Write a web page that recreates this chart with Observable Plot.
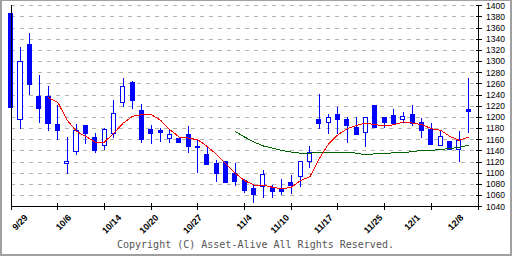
<!DOCTYPE html>
<html>
<head>
<meta charset="utf-8">
<script src="https://cdn.jsdelivr.net/npm/d3@7"></script>
<script src="https://cdn.jsdelivr.net/npm/@observablehq/plot@0.6"></script>
<style>
  html, body { margin: 0; padding: 0; background: #fff; }
  #wrap { position: relative; width: 512px; height: 256px; overflow: hidden; background: #fff; }
  #chart { position: absolute; left: 0; top: 0; }
  #chart svg { shape-rendering: crispEdges; }
  #chart svg text { shape-rendering: auto; }
  #frame { position: absolute; left: 0; top: 0; width: 512px; height: 256px; box-sizing: border-box;
           border: 2px solid #a0a0a0; border-top-width: 1px; pointer-events: none; }
  #copy { position: absolute; left: 117px; top: 239px; font: 10px/12px "DejaVu Sans Mono", monospace;
          color: #555; white-space: nowrap; }
</style>
</head>
<body>
<div id="wrap">
  <div id="chart"></div>
  <div id="copy">Copyright (C) Asset-Alive All Rights Reserved.</div>
  <div id="frame"></div>
</div>
<script>
// x tick labels (every 5 trading days) and their calendar dates
const xLabels = ["9/29","10/6","10/14","10/20","10/27","11/4","11/10","11/17","11/25","12/1","12/8"];
const xLabelDates = ["2025-09-29","2025-10-06","2025-10-14","2025-10-20","2025-10-27","2025-11-04",
                     "2025-11-10","2025-11-17","2025-11-25","2025-12-01","2025-12-08"];
const xTickIndex = [0,5,10,15,20,25,30,35,40,45,50];

// daily OHLC (index 0 = 9/29)
const openP  = [1386,1196,1329,1236,1236,1187,1116,1138,1184,1164,
                1149,1171,1226,1261,1211,1177,1175,1162,1162,1168,
                1148,1132,1116,1121,1099,1087,1071,1075,1073,1071,
                1083,1093,1121,1196,1190,1205,1195,1181,1172,1221,
                1199,1202,1195,1205,1190,1177,1149,1156,1141,1213];
const highP  = [1395,1325,1350,1275,1255,1222,1164,1187,1185,1171,
                1180,1230,1270,1264,1223,1186,1180,1178,1163,1184,
                1160,1147,1123,1121,1117,1089,1079,1105,1078,1089,
                1096,1121,1148,1241,1205,1218,1200,1200,1199,1221,
                1199,1214,1209,1221,1199,1189,1175,1156,1175,1270];
const lowP   = [1212,1179,1239,1190,1174,1159,1098,1132,1152,1136,
                1140,1163,1217,1214,1154,1152,1156,1154,1154,1136,
                1099,1114,1083,1082,1076,1064,1046,1054,1054,1060,
                1062,1075,1109,1178,1170,1170,1154,1169,1147,1181,
                1180,1186,1190,1184,1163,1150,1149,1140,1120,1172];
const closeP = [1217,1300,1258,1215,1188,1175,1121,1175,1170,1140,
                1178,1207,1255,1229,1159,1170,1172,1169,1155,1147,
                1146,1114,1098,1083,1084,1068,1061,1097,1066,1067,
                1078,1121,1137,1188,1199,1195,1184,1169,1199,1181,
                1190,1189,1201,1189,1175,1150,1165,1141,1157,1210];

// short moving average (red), starts at index 4
const maShortStart = 4;
const maShort = [1235,1227,1195,1175,1166,1156,1156,1172,1190,1202,
                 1205,1205,1195,1178,1165,1163,1160,1148,1134,1117,
                 1100,1087,1079,1079,1075,1072,1075,1087,1094,1126,
                 1153,1169,1180,1186,1190,1187,1185,1187,1192,1190,
                 1187,1180,1177,1166,1159,1165];
// long moving average (green), starts at index 24
const maLongStart = 24;
const maLong = [1175,1165,1156,1149,1145,1141,1138,1136,1136,1138,
                1138,1138,1138,1136,1133,1135,1135,1137,1137,1139,
                1141,1141,1143,1144,1147,1150];

const yTicks = [1040,1060,1080,1100,1120,1140,1160,1180,1200,1220,1240,1260,1280,1300,1320,1340,1360,1380,1400];

const candles = openP.map((o, i) => ({i, open: o, high: highP[i], low: lowP[i], close: closeP[i]}));
const shortData = maShort.map((v, k) => ({i: maShortStart + k, v}));
const longData = maLong.map((v, k) => ({i: maLongStart + k, v}));

// date labels are laid out on a calendar-day basis across the trading-day axis
const calendar = d3.scaleUtc()
  .domain([new Date("2025-09-26T06:00Z"), new Date("2025-12-10T06:00Z")])
  .range([0, 50]);
const labelRows = xLabels.map((t, k) => ({t, pos: calendar(new Date(xLabelDates[k] + "T00:00Z"))}));

const blue = "#0000ff";
const chart = Plot.plot({
  width: 512, height: 256,
  marginLeft: 10.7, marginRight: 34.5, marginTop: 5.3, marginBottom: 49.7,
  x: {type: "linear", domain: [0, 50], axis: null},
  y: {domain: [1040, 1400], axis: null},
  style: {background: "transparent", overflow: "visible", fontFamily: "Liberation Sans"},
  marks: [
    Plot.gridY(yTicks.filter(v => v > 1040), {stroke: "#b4b4b4", strokeOpacity: 1, strokeDasharray: "4,5"}),
    Plot.ruleX(candles, {x: "i", y1: "low", y2: "high", stroke: blue, strokeWidth: 1}),
    Plot.rect(candles, {x1: d => d.i - 0.22, x2: d => d.i + 0.22, y1: "open", y2: "close",
      fill: d => d.close < d.open ? blue : "#ffffff", stroke: blue, strokeWidth: 1}),
    Plot.line(longData, {x: "i", y: "v", stroke: "#006400", strokeWidth: 1}),
    Plot.line(shortData, {x: "i", y: "v", stroke: "#ff0000", strokeWidth: 1}),
    Plot.ruleX([0, 50], {stroke: "#000"}),
    Plot.ruleY([1040], {stroke: "#000"}),
    Plot.axisY(yTicks, {anchor: "right", tickSize: 6, dx: -3, tickPadding: 5, fontSize: 8.5,
      tickFormat: d => String(d),
      fontFamily: "Liberation Sans", fill: "#000", stroke: "#000", label: null}),
    Plot.axisX(xTickIndex, {anchor: "bottom", tickSize: 7, dy: -3, tickFormat: () => "", stroke: "#000", label: null}),
    Plot.text(labelRows, {x: "pos", frameAnchor: "bottom", text: "t", rotate: -45,
      textAnchor: "end", dy: 11.5, fontSize: 9, fontWeight: "bold", fontFamily: "Liberation Sans", fill: "#000"})
  ]
});
document.getElementById("chart").appendChild(chart);
</script>
</body>
</html>
